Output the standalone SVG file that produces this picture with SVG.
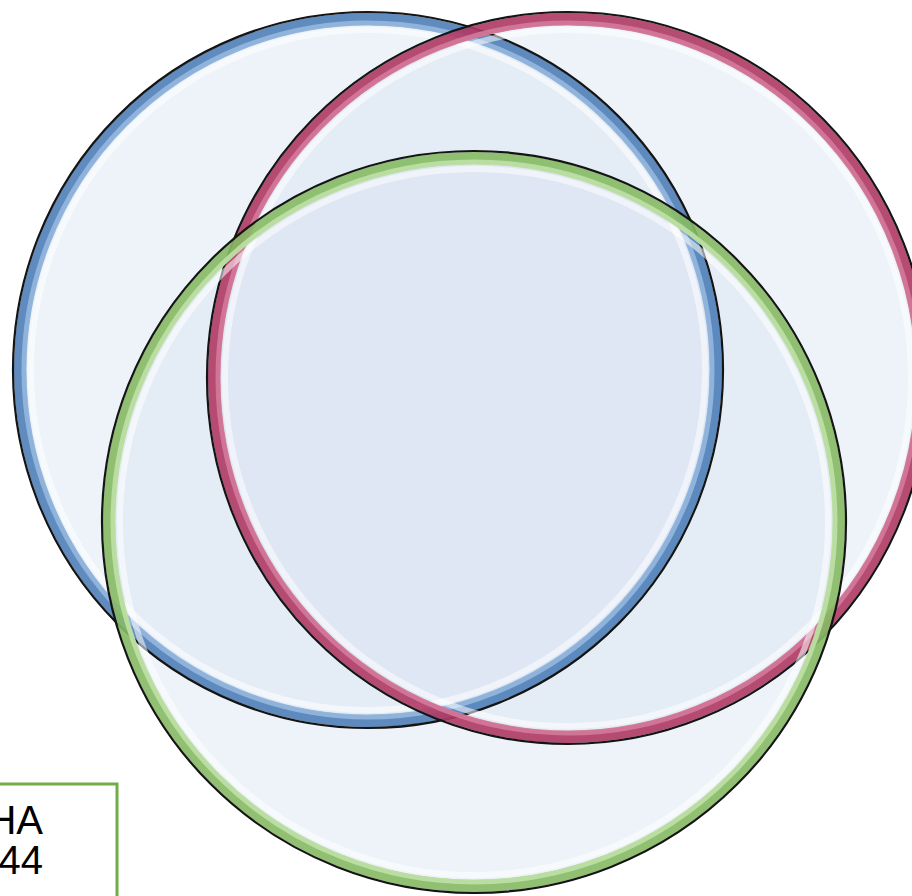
<svg xmlns="http://www.w3.org/2000/svg" width="912" height="896" viewBox="0 0 912 896">
<style>
.fill{fill:#D5E2F0;fill-opacity:0.4;stroke:none}
.edge{fill:none;stroke:#141414;stroke-width:2.2}
.band{fill:none;stroke-width:12}
.lite{fill:none;stroke-width:5}
.hl{fill:none;stroke:#FFFFFF;stroke-width:6;stroke-opacity:0.55}
.lbl{font-family:"Liberation Sans",Arial,sans-serif;font-size:40px;fill:#000}
</style>
<rect width="912" height="896" fill="#FFFFFF"/>
<g id="circle-fills">
<ellipse class="fill" cx="368" cy="370" rx="355" ry="358"/>
<ellipse class="fill" cx="568" cy="378" rx="361" ry="366"/>
<ellipse class="fill" cx="474" cy="522" rx="372" ry="371"/>
</g>
<g id="circle-blue">
<ellipse class="band" cx="368" cy="370" rx="348" ry="351" stroke="#4F7FB8" stroke-opacity="0.9"/>
<ellipse class="lite" cx="368" cy="370" rx="344" ry="347" stroke="#95B7DE" stroke-opacity="0.9"/>
<ellipse class="hl" cx="368" cy="370" rx="337" ry="340"/>
<ellipse class="edge" cx="368" cy="370" rx="355" ry="358"/>
</g>
<g id="circle-red">
<ellipse class="band" cx="568" cy="378" rx="354" ry="359" stroke="#B03A64" stroke-opacity="0.9"/>
<ellipse class="lite" cx="568" cy="378" rx="350" ry="355" stroke="#D47A9A" stroke-opacity="0.9"/>
<ellipse class="hl" cx="568" cy="378" rx="343" ry="348"/>
<ellipse class="edge" cx="568" cy="378" rx="361" ry="366"/>
</g>
<g id="circle-green">
<ellipse class="band" cx="474" cy="522" rx="365" ry="364" stroke="#86BA63" stroke-opacity="0.9"/>
<ellipse class="lite" cx="474" cy="522" rx="361" ry="360" stroke="#BFE0A6" stroke-opacity="0.9"/>
<ellipse class="hl" cx="474" cy="522" rx="354" ry="353"/>
<ellipse class="edge" cx="474" cy="522" rx="372" ry="371"/>
</g>
<g id="label-box">
<rect x="-20" y="784" width="137" height="140" fill="#FFFFFF" stroke="#70AD47" stroke-width="3"/>
<text class="lbl" x="43" y="834" text-anchor="end">HA</text>
<text class="lbl" x="43" y="874" text-anchor="end">44</text>
</g>
</svg>
